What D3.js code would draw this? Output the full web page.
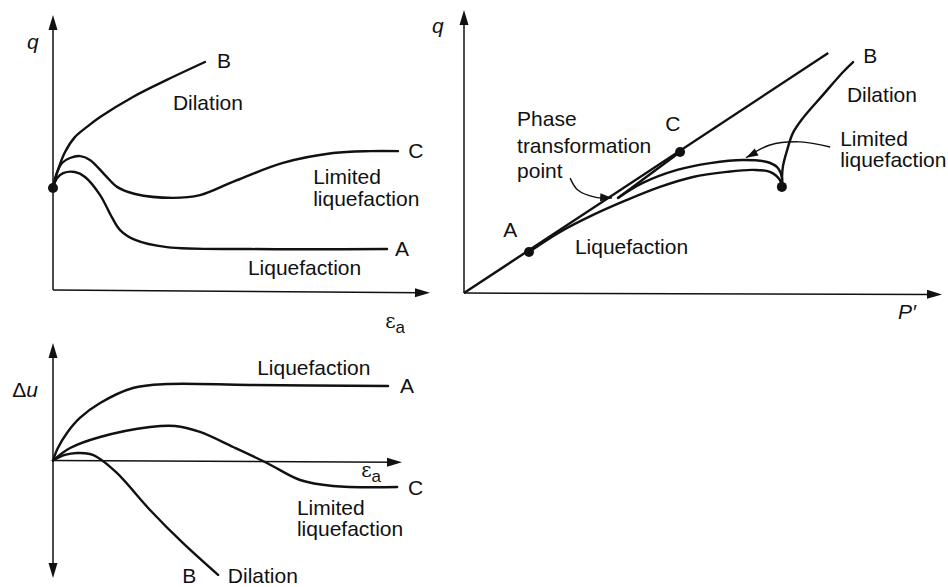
<!DOCTYPE html>
<html>
<head>
<meta charset="utf-8">
<script src="https://cdn.jsdelivr.net/npm/d3@7"></script>
<style>
  body { margin: 0; background: #fff; }
  svg text { font-family: "Liberation Sans", Arial, sans-serif; font-size: 21px; fill: #111; }
</style>
</head>
<body>
<svg id="chart" width="948" height="587"></svg>
<script>
// ---- top left: q vs axial strain ----
const qStrainA = [[0,37.1],[1.1,40.7],[2.7,42.5],[5.8,42.9],[8.5,41.1],[12.5,34.5],[15.6,26.5],[17.8,21.8],[21.8,18.2],[30.2,15.6],[52.3,14.9],[88.6,14.9]];
const qStrainB = [[0,37.1],[1.3,43.6],[3.2,50.2],[5.8,55.6],[9.0,59.3],[12.5,62.9],[21.2,70.2],[30.2,76.4],[40.3,82.9]];
const qStrainC = [[0,37.1],[0.8,41.8],[2.4,46.2],[4.5,48.0],[7.2,48.7],[9.8,47.3],[13.8,41.8],[17.0,37.5],[21.8,34.9],[31.8,33.5],[39.0,34.5],[47.7,39.3],[61.0,46.2],[74.3,49.8],[84.1,50.5],[91.5,50.5]];
const qStrainStart = [[0,37.1]];

// ---- top right: stress path q vs p' ----
const pathLine = [[0,0],[76.2,84.8]];
const pathA = [[66.5,37.5],[66.1,39.9],[64.0,42.8],[60.5,43.5],[55.0,42.8],[47.9,41.0],[41.0,37.5],[34.1,32.9],[27.0,27.6],[20.1,21.6],[13.6,14.5]];
const pathB = [[66.5,37.5],[66.7,44.5],[67.6,50.5],[68.8,56.5],[70.9,61.8],[75.1,70.0],[79.3,78.1],[81.4,81.6]];
const pathC = [[66.5,37.5],[66.5,41.0],[65.5,44.5],[63.4,46.3],[58.4,47.0],[51.5,45.9],[44.6,43.5],[37.4,38.9],[32.2,33.6]];
const pathCRise = [[32.2,33.6],[45.2,49.8]];
const pathDots = [[66.5,37.5],[13.6,14.5],[45.2,49.8]];
const phaseArrow = [[22.2,40.6],[23.8,36.4],[27.4,33.9],[31.0,33.6]];
const limitedArrow = [[76.6,51.6],[70.3,53.4],[64.0,52.3],[59.0,47.8]];

// ---- bottom left: pore pressure vs axial strain ----
const duStrainA = [[0,0],[1.4,10.6],[4.0,23.4],[7.7,36.2],[13.5,48.9],[22.9,61.7],[32.7,65.1],[56.4,64.3],[96.0,63.4]];
const duStrainB = [[0,0],[3.4,4.7],[6.9,6.4],[10.6,5.5],[12.6,3.0],[18.3,-10.6],[27.8,-42.1],[37.2,-70.2],[47.3,-97.4]];
const duStrainC = [[0,0],[4.9,10.6],[13.5,20.0],[27.8,28.5],[35.0,29.4],[42.1,24.3],[51.6,11.5],[61.3,-2.1],[70.8,-16.6],[80.2,-21.7],[98.6,-22.6]];

// label groups, each line [text, x, y] in the panel's units
const labels1 = [
    [["B",43.5,80.7]], [["Dilation",31.8,65.5]], [["C",94.2,48.0]],
    [["Limited",69.0,38.6],["liquefaction",69.0,30.7]],
    [["A",90.7,12.4]], [["Liquefaction",51.7,5.5]]
];
const labels2 = [
    [["B",83.5,81.3]], [["Dilation",80.1,67.5]],
    [["Limited",78.7,51.9],["liquefaction",78.7,44.5]],
    [["C",42.1,57.2]],
    [["Phase",11.1,59.0],["transformation",11.1,49.5],["point",11.1,40.6]],
    [["A",8.2,19.8]], [["Liquefaction",23.2,13.8]]
];
const labels3 = [
    [["Liquefaction",58.5,72.8]], [["A",99.4,57.4]], [["C",101.7,-29.4]],
    [["Limited",69.9,-46.4],["liquefaction",69.9,-64.3]],
    [["B",37.0,-104.3]], [["Dilation",50.1,-104.3]]
];

const svg = d3.select("#chart");

const x1 = d3.scaleLinear().domain([0, 100]).range([53, 430]);
const y1 = d3.scaleLinear().domain([0, 100]).range([290, 15]);
const x2 = d3.scaleLinear().domain([0, 100]).range([464, 942]);
const y2 = d3.scaleLinear().domain([0, 100]).range([293, 10]);
const x3 = d3.scaleLinear().domain([0, 100]).range([53, 402]);
const y3 = d3.scaleLinear().domain([-100, 100]).range([578, 343]);

// filled triangle with tip at (x, y) pointing along angle
function arrowHead(g, x, y, angle, len, half) {
    const c = Math.cos(angle), s = Math.sin(angle);
    const bx = x - len * c, by = y - len * s;
    const pts = [[x, y], [bx - half * s, by + half * c], [bx + half * s, by - half * c]];
    g.append("polygon").attr("points", pts.map(p => p.join(",")).join(" ")).attr("fill", "#111");
}

function axisArrow(g, xa, ya, xb, yb) {
    const ang = Math.atan2(yb - ya, xb - xa);
    g.append("line")
        .attr("x1", xa).attr("y1", ya)
        .attr("x2", xb - 8 * Math.cos(ang)).attr("y2", yb - 8 * Math.sin(ang))
        .attr("stroke", "#111").attr("stroke-width", 1.5);
    arrowHead(g, xb, yb, ang, 15, 4.5);
}

function drawPanel(x, y, curves, lbls) {
    const g = svg.append("g");
    const line = d3.line().x(d => x(d[0])).y(d => y(d[1])).curve(d3.curveCatmullRom.alpha(0.5));
    g.selectAll("path.curve").data(curves).enter().append("path")
        .attr("class", "curve")
        .attr("d", line)
        .attr("fill", "none")
        .attr("stroke", "#111")
        .attr("stroke-width", 2.4)
        .attr("stroke-linecap", "round");
    g.selectAll("text.lbl").data(lbls).enter().append("text")
        .attr("class", "lbl")
        .selectAll("tspan").data(d => d).enter().append("tspan")
        .attr("x", d => x(d[1]))
        .attr("y", d => y(d[2]))
        .text(d => d[0]);
    return g;
}

function drawDots(g, x, y, pts) {
    g.selectAll("circle").data(pts).enter().append("circle")
        .attr("cx", d => x(d[0])).attr("cy", d => y(d[1]))
        .attr("r", 5).attr("fill", "#111");
}

function epsLabel(g, px, py) {
    const t = g.append("text").attr("x", px).attr("y", py).style("font-family", "'DejaVu Serif', serif").style("font-size", "20px");
    t.append("tspan").text("ε");
    t.append("tspan").attr("dy", 5).style("font-family", "'Liberation Sans', Arial, sans-serif").style("font-size", "17px").text("a");
}

// top left
const g1 = drawPanel(x1, y1, [qStrainA, qStrainB, qStrainC], labels1);
axisArrow(g1, x1(0), y1(0), x1(0), y1(100));
axisArrow(g1, x1(0), y1(0), x1(100), y1(-1));
drawDots(g1, x1, y1, qStrainStart);
g1.append("text").attr("x", x1(-6.9)).attr("y", y1(87.6)).style("font-style", "italic").text("q");
epsLabel(g1, x1(88.1), y1(-13.8));

// top right
const g2 = drawPanel(x2, y2, [pathA, pathB, pathC], labels2);
const straight = d3.line().x(d => x2(d[0])).y(d => y2(d[1]));
g2.selectAll("path.straight").data([pathLine, pathCRise]).enter().append("path")
    .attr("class", "straight")
    .attr("d", straight)
    .attr("fill", "none").attr("stroke", "#111").attr("stroke-width", 2.4);
axisArrow(g2, x2(0), y2(0), x2(0), y2(100));
axisArrow(g2, x2(0), y2(0), x2(100), y2(-0.5));
drawDots(g2, x2, y2, pathDots);
g2.append("text").attr("x", x2(-6.7)).attr("y", y2(91.9)).style("font-style", "italic").text("q");
g2.append("text").attr("x", x2(90.8)).attr("y", y2(-9.2)).style("font-style", "italic").text("P\u2032");

const annLine = d3.line().x(d => x2(d[0])).y(d => y2(d[1])).curve(d3.curveCatmullRom.alpha(0.5));
[phaseArrow, limitedArrow].forEach(a => {
    g2.append("path").attr("d", annLine(a)).attr("fill", "none").attr("stroke", "#111").attr("stroke-width", 1.4);
    const p = a[a.length - 1], q = a[a.length - 2];
    const ang = Math.atan2(y2(p[1]) - y2(q[1]), x2(p[0]) - x2(q[0]));
    arrowHead(g2, x2(p[0]), y2(p[1]), ang, 12, 4);
});

// bottom left
const g3 = drawPanel(x3, y3, [duStrainA, duStrainB, duStrainC], labels3);
axisArrow(g3, x3(0), y3(0), x3(0), y3(100));
axisArrow(g3, x3(0), y3(0), x3(0), y3(-100));
axisArrow(g3, x3(0), y3(0), x3(100), y3(-1.5));
const du = g3.append("text").attr("x", x3(-11.7)).attr("y", y3(54.0));
du.append("tspan").text("\u0394");
du.append("tspan").style("font-style", "italic").text("u");
epsLabel(g3, x3(88.3), y3(-14.0));
</script>
</body>
</html>
